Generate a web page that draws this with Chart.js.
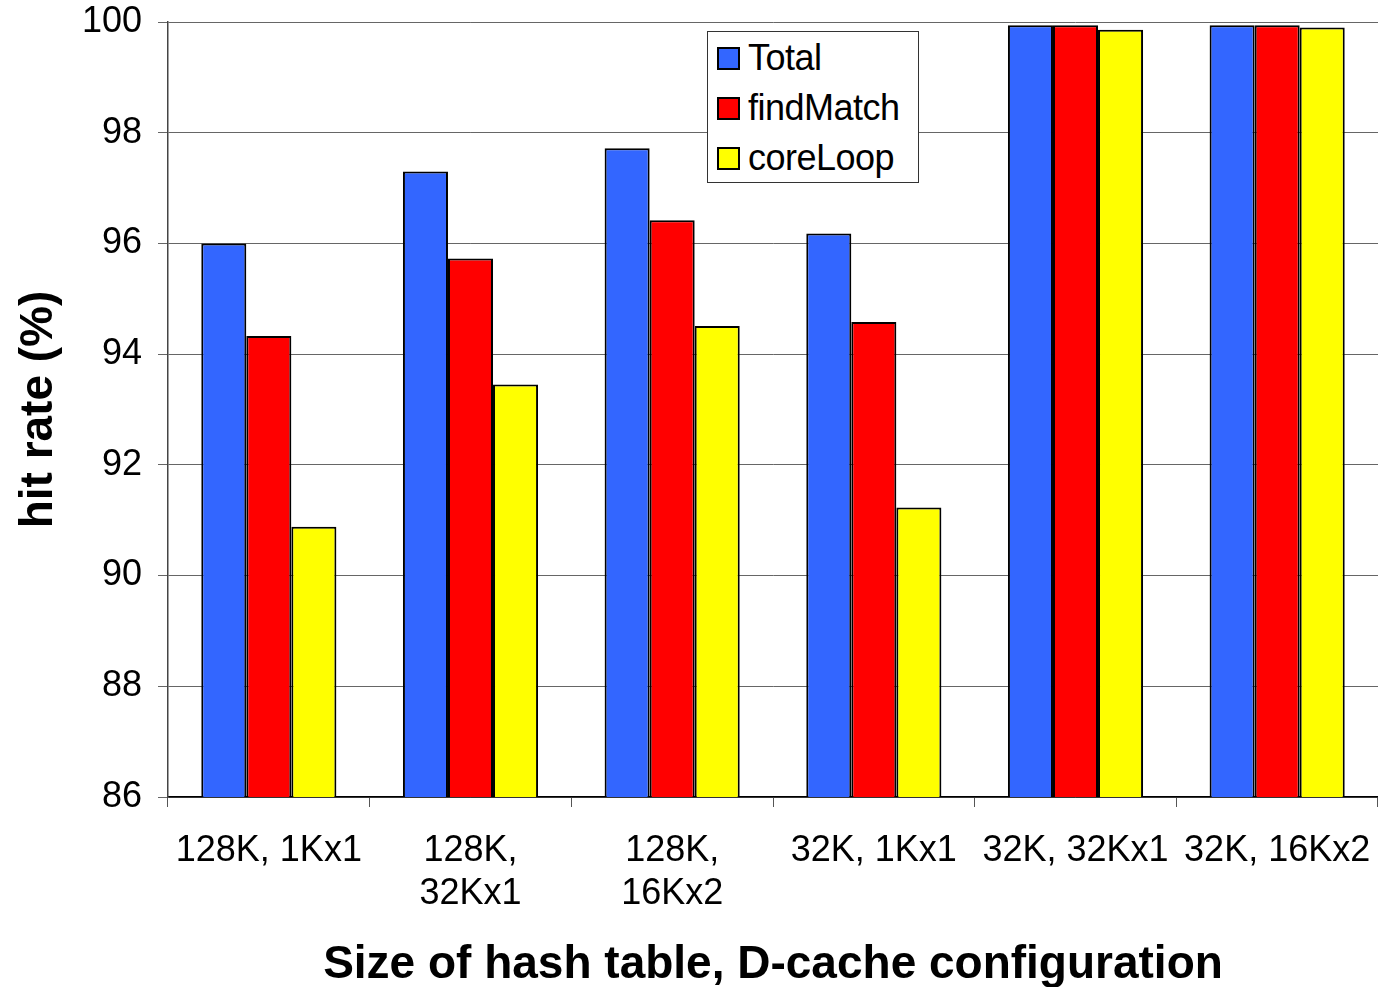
<!DOCTYPE html>
<html>
<head>
<meta charset="utf-8">
<script src="https://cdn.jsdelivr.net/npm/chart.js@4"></script>
<style>
  html, body { margin: 0; padding: 0; background: #fff; }
  #wrap { position: relative; width: 1378px; height: 987px; }
  #legend { position: absolute; left: 707px; top: 31px; width: 210px; height: 150px;
    border: 1px solid #333; background: #fff; font-family: "Liberation Sans", Arial, sans-serif;
    font-size: 36px; color: #000; box-sizing: content-box; }
  #legend .item { position: absolute; left: 9px; height: 40px; line-height: 40px; white-space: nowrap; letter-spacing: -0.5px; }
  #legend .sw { display: inline-block; width: 19px; height: 19px; border: 2px solid #000;
    vertical-align: middle; margin-right: 8px; position: relative; top: -2px; }
</style>
</head>
<body>
<div id="wrap">
  <canvas id="c" width="1378" height="987"></canvas>
  <div id="legend"></div>
</div>
<script>
// categories (multi-line labels as in the original)
const categories = [
  ['128K, 1Kx1'],
  ['128K,', '32Kx1'],
  ['128K,', '16Kx2'],
  ['32K, 1Kx1'],
  ['32K, 32Kx1'],
  ['32K, 16Kx2']
];
const seriesNames = ['Total', 'findMatch', 'coreLoop'];
const totalVals     = [96.0, 97.3, 97.72, 96.18, 99.94, 99.94];
const findMatchVals = [94.33, 95.73, 96.42, 94.58, 99.94, 99.94];
const coreLoopVals  = [90.88, 93.45, 94.51, 91.23, 99.86, 99.9];
const colors = ['#3366FF', '#FF0000', '#FFFF00'];
const yTicks = [86, 88, 90, 92, 94, 96, 98, 100];

const FONT = "'Liberation Sans', Arial, sans-serif";
const series = [totalVals, findMatchVals, coreLoopVals];

const chart = new Chart(document.getElementById('c'), {
  type: 'bar',
  data: {
    labels: categories,
    datasets: series.map((d, i) => ({
      label: seriesNames[i],
      data: d,
      backgroundColor: colors[i],
      borderColor: '#000',
      borderWidth: 2,
      borderSkipped: 'bottom',
      barPercentage: 1.0,
      categoryPercentage: 0.67
    }))
  },
  options: {
    responsive: false,
    animation: false,
    layout: { padding: { top: 22, right: 0, left: 0, bottom: 0 } },
    plugins: { legend: { display: false }, tooltip: { enabled: false } },
    scales: {
      x: {
        offset: true,
        grid: { display: true, drawOnChartArea: false, drawTicks: true, tickLength: 10,
                offset: true, color: '#555', lineWidth: 1 },
        border: { display: true, color: '#000', width: 1.5 },
        ticks: { color: '#000', font: { family: FONT, size: 36 }, padding: 22,
                 maxRotation: 0, autoSkip: false },
        title: { display: true, text: 'Size of hash table, D-cache configuration',
                 color: '#000', font: { family: FONT, size: 46, weight: 'bold' },
                 padding: { top: 20, bottom: -6 } },
        afterFit: s => { s.height = 190; s.paddingLeft = 0; s.paddingRight = 0; }
      },
      y: {
        min: 86, max: 100,
        afterBuildTicks: s => { s.ticks = yTicks.map(v => ({ value: v })); },
        grid: { color: '#666', lineWidth: 1, tickLength: 10 },
        border: { display: true, color: '#444', width: 1.5 },
        ticks: { color: '#000', font: { family: FONT, size: 36 }, padding: 16 },
        title: { display: true, text: 'hit rate (%)', color: '#000',
                 font: { family: FONT, size: 46, weight: 'bold' }, padding: { top: 12, bottom: 0 } },
        afterFit: s => { s.width = 168; s.paddingTop = 0; s.paddingBottom = 0; }
      }
    }
  }
});

// legend box built from the series names / colours
const lg = document.getElementById('legend');
seriesNames.forEach((name, i) => {
  const it = document.createElement('div');
  it.className = 'item';
  it.style.top = (6 + i * 50) + 'px';
  it.innerHTML = '<span class="sw" style="background:' + colors[i] + '"></span>' + name;
  lg.appendChild(it);
});
</script>
</body>
</html>
